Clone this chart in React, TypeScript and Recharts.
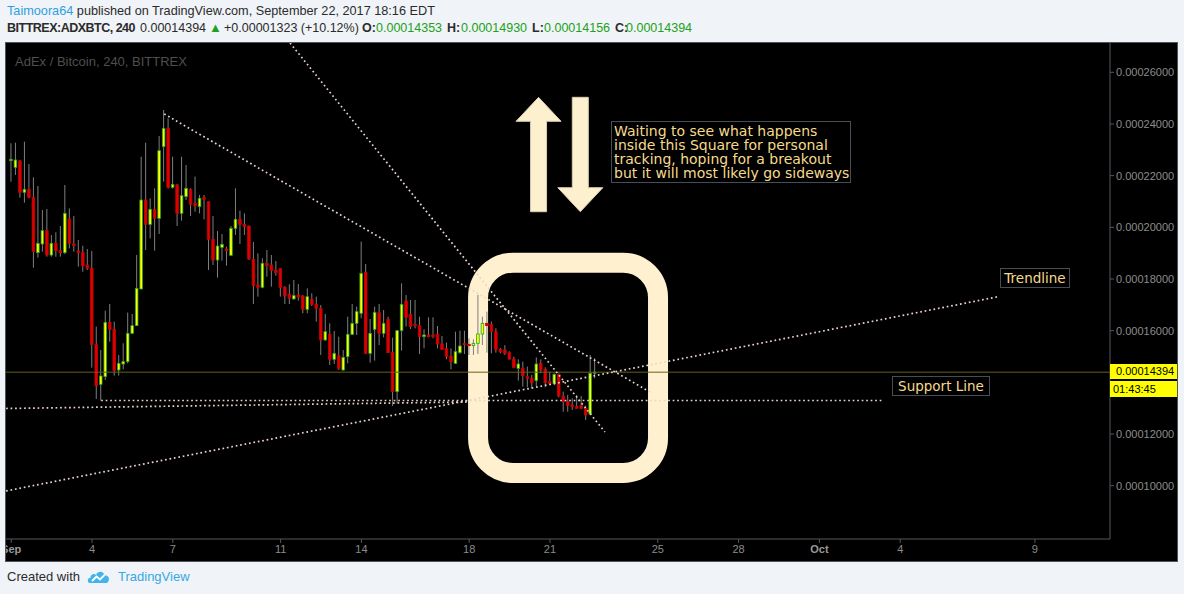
import { Bar, ComposedChart, ReferenceArea, ReferenceLine, XAxis, YAxis } from "recharts";

// 4h candles, BITTREX:ADXBTC, prices in satoshi (1e-8 BTC)
const opens = [
  22580, 22322, 22567, 21355, 21471, 21161, 19020, 19355, 19871, 18929, 19381, 19097, 19020, 20323, 19355, 19084,
  19033, 18543, 18414, 15472, 13925, 14221, 16324, 16053, 14479, 14711, 14802, 15898, 16195, 17614, 21058, 20116,
  20697, 20348, 23122, 23831, 21548, 21639, 20542, 21187, 21471, 20929, 20800, 21148, 20993, 19536, 18736, 19226,
  19162, 18917, 19961, 20310, 20116, 20052, 18762, 17769, 17678, 18607, 18543, 18336, 18400, 17678, 17407, 17227,
  17382, 17343, 16827, 17214, 17020, 16866, 15640, 15859, 14892, 15034, 14479, 14995, 15859, 16285, 16672, 18259,
  15124, 16053, 16698, 15898, 16440, 15163, 13641, 16001, 17149, 16633, 16246, 16195, 15769, 15833, 15833, 15872,
  15485, 15318, 15021, 14737, 15150, 15511, 15472, 15421, 15511, 15872, 16285, 16246, 15962, 15279, 15253, 15150,
  14905, 14544, 14544, 14221, 14157, 14066, 14737, 14505, 14028, 13963, 14311, 13473, 13254, 13125, 13060, 13099,
  12995, 12776, 14353,
];
const highs = [
  23251, 23277, 22606, 23316, 22451, 21935, 21600, 20671, 20710, 19703, 19807, 20052, 21638, 20735, 20439, 19510,
  19291, 19162, 19084, 16156, 15253, 16775, 17033, 16349, 15059, 15511, 16698, 16646, 18929, 22735, 23277, 21122,
  21509, 23535, 24541, 24218, 22735, 21677, 22735, 22412, 21509, 21961, 21251, 21251, 20993, 20439, 19858, 19742,
  19252, 20052, 21509, 20645, 20542, 20065, 19433, 18994, 18800, 19123, 18929, 18697, 18414, 17730, 17794, 17962,
  17807, 17381, 17639, 17446, 17317, 16994, 16646, 16285, 15988, 15769, 15253, 16543, 17033, 16930, 19446, 18581,
  16453, 16930, 17033, 16801, 16543, 15730, 16027, 17833, 17381, 17188, 17188, 16543, 16053, 16517, 16517, 16182,
  15795, 15537, 15318, 15962, 16001, 16001, 15705, 15666, 17381, 16543, 16736, 16350, 16092, 15330, 15440, 15200,
  14995, 14892, 14801, 14608, 14286, 14969, 14892, 14582, 14415, 14350, 14350, 13641, 13512, 13383, 13512, 13473,
  13099, 15059, 14930,
];
const lows = [
  21768, 22026, 21148, 20955, 21123, 18439, 18826, 19059, 18865, 18865, 18865, 18865, 18968, 19187, 19059, 18478,
  18284, 18349, 14569, 13357, 13292, 14092, 15575, 14260, 14260, 14505, 14737, 15870, 16182, 17601, 19123, 19574,
  19097, 19742, 21768, 21500, 21500, 20052, 20258, 21058, 20439, 20606, 20542, 20310, 18349, 18543, 18052, 18710,
  18517, 18904, 19703, 19355, 19703, 18736, 17033, 17317, 17640, 18091, 17704, 18130, 17317, 17033, 17033, 17214,
  17162, 16672, 16672, 16956, 16349, 15059, 15614, 14672, 14711, 14479, 14453, 14737, 15833, 15833, 16479, 15100,
  14763, 14840, 15446, 15743, 15140, 13086, 13189, 15227, 16156, 16066, 16092, 15098, 15318, 15743, 15705, 15318,
  15260, 14892, 14505, 14720, 15098, 15098, 15059, 15059, 15098, 15446, 15150, 15124, 15150, 15124, 15060, 14880,
  14544, 14066, 13834, 13808, 13770, 13860, 14350, 13808, 13937, 13899, 13421, 12866, 12866, 12931, 12980, 12957,
  12544, 12738, 14156,
];
const closes = [
  22632, 22606, 21355, 21471, 21161, 19059, 19381, 19871, 18929, 19381, 19097, 19020, 20542, 19381, 19291, 19020,
  18517, 18414, 15472, 13873, 14247, 16324, 16053, 14453, 14737, 14802, 15898, 16195, 17639, 21058, 20116, 20697,
  20348, 22967, 23831, 21548, 21664, 20542, 21226, 21510, 20890, 20826, 21123, 21084, 19536, 18736, 19278, 19342,
  19097, 19961, 20310, 20116, 20026, 18780, 17743, 17678, 18607, 18517, 18323, 18246, 17678, 17356, 17253, 17356,
  17304, 16827, 17317, 17020, 16866, 15640, 15962, 14892, 15124, 14544, 14969, 15859, 16285, 16737, 18220, 15124,
  15898, 16711, 15898, 16285, 15150, 13641, 16001, 17020, 16517, 16156, 16195, 15769, 15833, 15769, 15769, 15485,
  15279, 14995, 14801, 15189, 15408, 15459, 15421, 15511, 15872, 16285, 16200, 15962, 15279, 15189, 15124, 14905,
  14582, 14711, 14260, 14157, 13989, 14711, 14479, 13989, 13963, 14311, 13473, 13254, 13099, 13060, 12995, 12995,
  12738, 14353, 14394,
];

const BARS_PER_DAY = 6; // first bar = Sep 1, 00:00
const dayTicks = [0, 3, 6, 10, 13, 17, 20, 24, 27, 30, 33, 38];
const dayLabels = ["Sep", "4", "7", "11", "14", "18", "21", "25", "28", "Oct", "4", "9"];
const priceTicks = [10000, 12000, 16000, 18000, 20000, 22000, 24000, 26000];
const lastPrice = 14394;

// drawings: [day, satoshi] pairs
const dottedLines = [
  [[5.68, 24386], [23.71, 13629]],
  [[10.35, 27134], [22.04, 12081]],
  [[-0.19, 9798], [36.64, 17316]],
  [[3.34, 13298], [32.36, 13298]],
  [[-0.19, 12989], [16.92, 13240]],
];
const squareBox = { x1: 17.33, x2: 24.01, y1: 10493, y2: 18632 };
const upArrowBox = { x1: 18.74, x2: 20.41, y1: 20605, y2: 25032 };
const downArrowBox = { x1: 20.29, x2: 21.96, y1: 20605, y2: 25032 };

const candles = opens.map((o, i) => ({
  t: i / BARS_PER_DAY,
  open: o,
  high: highs[i],
  low: lows[i],
  close: closes[i],
}));

const Candle = (props: any) => {
  const { x, y, width, height, payload } = props;
  const { open, close, high, low } = payload;
  const top = Math.min(y, y + height);
  const h = Math.abs(height);
  const k = h / (high - low || 1);
  const cx = x + width / 2;
  const up = close >= open;
  const bodyTop = top + (high - Math.max(open, close)) * k;
  const bodyH = Math.max(Math.abs(open - close) * k, 1);
  return (
    <g>
      <line x1={cx} x2={cx} y1={top} y2={top + h} stroke="#7f7f7f" strokeWidth={1} />
      <rect
        x={cx - 1.3}
        y={bodyTop}
        width={2.6}
        height={bodyH}
        fill={up ? "#ffff00" : "#e00000"}
        stroke={up ? "#27a127" : "#c40000"}
        strokeWidth={0.8}
      />
    </g>
  );
};

const RoundSquare = (p: any) => (
  <rect x={p.x} y={p.y} width={p.width} height={p.height} rx={35} fill="none" stroke="#fff1cf" strokeWidth={20} />
);

const arrow = (up: boolean) => (p: any) => {
  const { x, y, width: w, height: h } = p;
  const cx = x + w / 2;
  const head = 24;
  const sw = 16;
  const pts = up
    ? [[cx, y], [x + w, y + head], [cx + sw / 2, y + head], [cx + sw / 2, y + h], [cx - sw / 2, y + h], [cx - sw / 2, y + head], [x, y + head]]
    : [[cx, y + h], [x + w, y + h - head], [cx + sw / 2, y + h - head], [cx + sw / 2, y], [cx - sw / 2, y], [cx - sw / 2, y + h - head], [x, y + h - head]];
  return (
    <polygon
      points={pts.map((q) => q.join(",")).join(" ")}
      fill="#fdf0cf"
      stroke="#d9cdb0"
      strokeWidth={1}
      strokeLinejoin="round"
    />
  );
};

const DayTick = (p: any) => {
  const label = dayLabels[dayTicks.indexOf(p.payload.value)];
  const month = label === "Sep" || label === "Oct";
  return (
    <text
      x={p.x}
      y={p.y}
      dy="0.71em"
      textAnchor="middle"
      fontSize={11}
      fill={month ? "#9a9a9a" : "#8c8c8c"}
      fontWeight={month ? "bold" : "normal"}
    >
      {label}
    </text>
  );
};

const green = "#21a121";
const dark = "#2b2b2b";
const hdr = { position: "absolute" as const, top: 21, fontSize: 12.5, whiteSpace: "nowrap" as const };

const labelBox = {
  position: "absolute" as const,
  border: "1px solid #474d55",
  background: "#000",
  color: "#f6da8c",
  fontFamily: "DejaVu Sans",
  fontSize: 13.5,
  lineHeight: "18px",
  textAlign: "center" as const,
  boxSizing: "border-box" as const,
};

export default function App() {
  return (
    <div
      style={{
        position: "absolute",
        left: 0,
        top: 0,
        width: 1184,
        height: 594,
        background: "#f0f3f7",
        fontFamily: "Liberation Sans, Arial, sans-serif",
        overflow: "hidden",
        color: dark,
      }}
    >
      <div style={{ position: "absolute", left: 7, top: 4, fontSize: 12.7, whiteSpace: "nowrap" }}>
        <span style={{ color: "#2e9fe0" }}>Taimoora64</span> published on TradingView.com, September 22, 2017 18:16 EDT
      </div>
      <span style={{ ...hdr, left: 7, fontWeight: "bold", letterSpacing: -0.5 }}>BITTREX:ADXBTC, 240</span>
      <span style={{ ...hdr, left: 140 }}>0.00014394</span>
      <span style={{ ...hdr, left: 209, top: 20, color: green, fontSize: 13 }}>▲</span>
      <span style={{ ...hdr, left: 224 }}>+0.00001323 (+10.12%)</span>
      <span style={{ ...hdr, left: 362, fontWeight: "bold" }}>O:</span>
      <span style={{ ...hdr, left: 376, color: green }}>0.00014353</span>
      <span style={{ ...hdr, left: 447, fontWeight: "bold" }}>H:</span>
      <span style={{ ...hdr, left: 461, color: green }}>0.00014930</span>
      <span style={{ ...hdr, left: 532, fontWeight: "bold" }}>L:</span>
      <span style={{ ...hdr, left: 544, color: green }}>0.00014156</span>
      <span style={{ ...hdr, left: 615, fontWeight: "bold" }}>C:</span>
      <span style={{ ...hdr, left: 626, color: green }}>0.00014394</span>

      <div
        style={{
          position: "absolute",
          left: 5,
          top: 42,
          width: 1173,
          height: 520,
          border: "1px solid #50545b",
          background: "#000",
          boxSizing: "border-box",
        }}
      >
        <ComposedChart width={1171} height={518} data={candles} margin={{ top: 0, right: 0, bottom: 0, left: 0 }}>
          <XAxis
            dataKey="t"
            type="number"
            domain={[-0.193, 40.787]}
            allowDataOverflow
            ticks={dayTicks}
            interval={0}
            height={22}
            stroke="#55585e"
            tickSize={4}
            tick={<DayTick />}
          />
          <YAxis
            orientation="right"
            domain={[7938, 27134]}
            allowDataOverflow
            ticks={priceTicks}
            tickFormatter={(v: number) => (v / 1e8).toFixed(8)}
            width={67}
            stroke="#55585e"
            tickSize={4}
            tickMargin={2}
            tick={{ fill: "#8c8c8c", fontSize: 11, textAnchor: "start" }}
          />
          <ReferenceLine y={lastPrice} stroke="#66611a" strokeWidth={1} />
          {dottedLines.map((l, i) => (
            <ReferenceLine
              key={i}
              segment={[{ x: l[0][0], y: l[0][1] }, { x: l[1][0], y: l[1][1] }]}
              stroke="#ead3cd"
              strokeWidth={1.7}
              strokeDasharray="1.7 2.8"
              ifOverflow="hidden"
            />
          ))}
          <Bar
            dataKey={(d: any) => [d.low, d.high]}
            barSize={4}
            shape={(p: any) => <Candle {...p} />}
            isAnimationActive={false}
          />
          <ReferenceArea {...squareBox} shape={RoundSquare} ifOverflow="visible" />
          <ReferenceArea {...upArrowBox} shape={arrow(true)} ifOverflow="visible" />
          <ReferenceArea {...downArrowBox} shape={arrow(false)} ifOverflow="visible" />
        </ComposedChart>

        <div style={{ position: "absolute", left: 9, top: 11, fontSize: 13, color: "#4f4f4f" }}>
          AdEx / Bitcoin, 240, BITTREX
        </div>
        <div
          style={{
            ...labelBox,
            left: 605,
            top: 78,
            width: 240,
            height: 62,
            textAlign: "left",
            lineHeight: "14px",
            fontSize: 14,
            padding: "2px 0 0 2px",
            whiteSpace: "nowrap",
          }}
        >
          Waiting to see what happens
          <br />
          inside this Square for personal
          <br />
          tracking, hoping for a breakout
          <br />
          but it will most likely go sideways
        </div>
        <div style={{ ...labelBox, left: 994, top: 225, width: 70, height: 20 }}>Trendline</div>
        <div style={{ ...labelBox, left: 886, top: 333, width: 98, height: 20 }}>Support Line</div>
        <div
          style={{
            position: "absolute",
            left: 1104,
            top: 321,
            width: 67,
            height: 15,
            background: "#ffff00",
            color: "#000",
            fontSize: 11,
            lineHeight: "15px",
            paddingLeft: 6,
            boxSizing: "border-box",
          }}
        >
          0.00014394
        </div>
        <div
          style={{
            position: "absolute",
            left: 1104,
            top: 338,
            width: 67,
            height: 16,
            background: "#ffff00",
            color: "#000",
            fontSize: 11,
            lineHeight: "16px",
            paddingLeft: 3,
            boxSizing: "border-box",
          }}
        >
          01:43:45
        </div>
      </div>

      <div style={{ position: "absolute", left: 7, top: 569, fontSize: 13, whiteSpace: "nowrap" }}>Created with</div>
      <svg style={{ position: "absolute", left: 87, top: 569 }} width={24} height={16} viewBox="0 0 24 16">
        <path
          d="M3 14 C0 14 0 9 3.5 8.5 C3.5 5 7.5 4 9 6 C10.5 1.5 17 1.5 17.5 6.5 C21 6 23 9 21.5 12 C21 13.5 20 14 19 14 Z"
          fill="#42b4ec"
        />
        <path d="M5 12 L9.5 7.5 L13 10.5 L17.5 6" fill="none" stroke="#fff" strokeWidth={1.8} />
      </svg>
      <div style={{ position: "absolute", left: 118, top: 569, fontSize: 13, color: "#37a8e3", whiteSpace: "nowrap" }}>
        TradingView
      </div>
    </div>
  );
}
